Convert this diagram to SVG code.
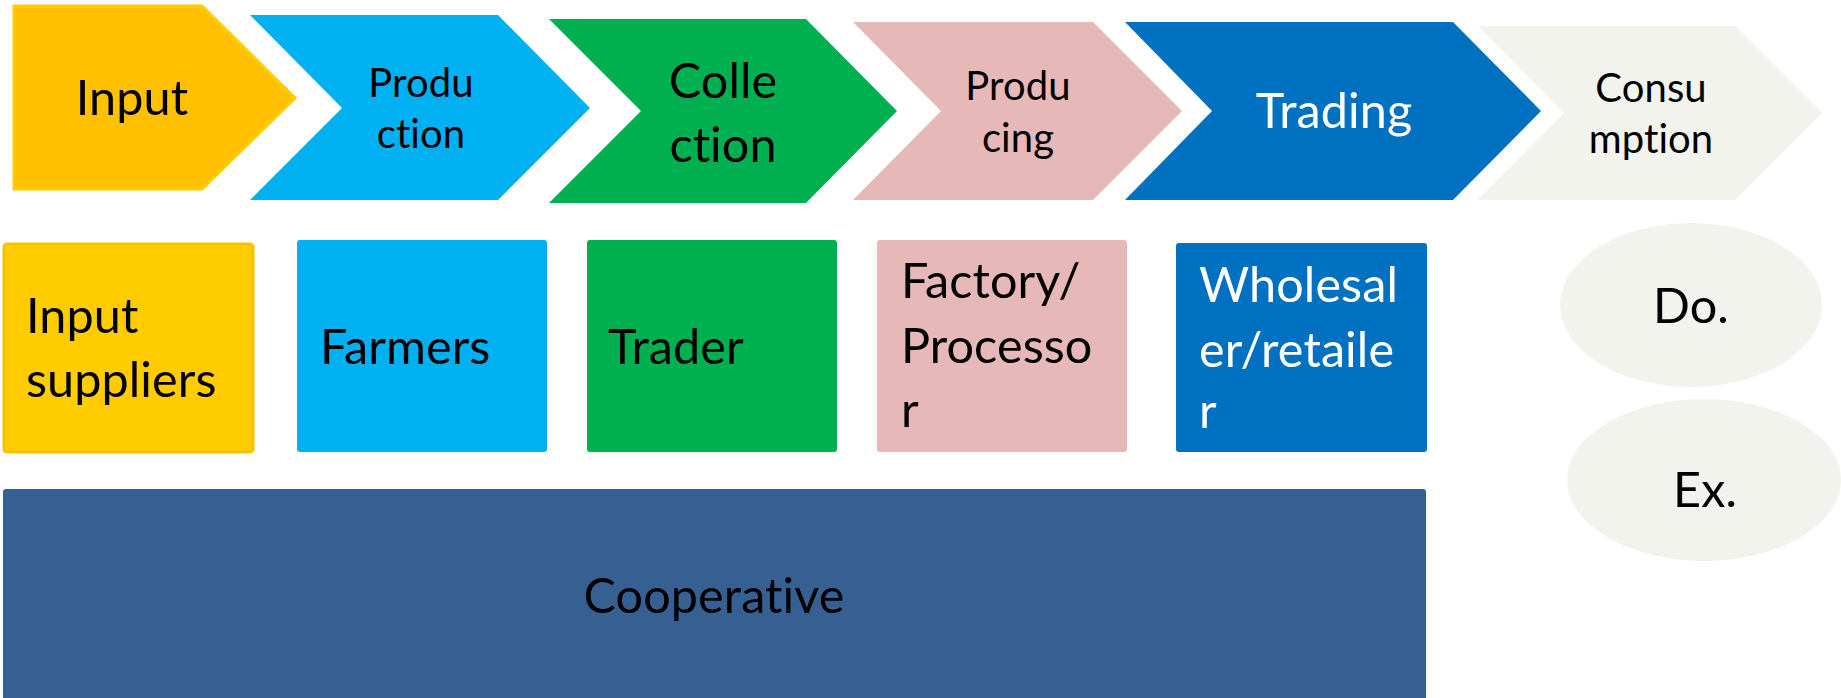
<svg xmlns="http://www.w3.org/2000/svg" width="1841" height="698" viewBox="0 0 1841 698">
<style>
text{font-family:Lato,"Open Sans","Liberation Sans",sans-serif;fill:#000;font-variant-ligatures:none;font-feature-settings:"liga" 0,"dlig" 0,"clig" 0;letter-spacing:0.1px}
.big{font-size:48.5px}
.mid{font-size:40px}
.c{text-anchor:middle}
.w{fill:#fff}
</style>
<rect width="1841" height="698" fill="#fff"/>
<g id="stage-input"><polygon points="14,6 202,6 295,98 202,189 14,189" fill="#FFC000" stroke="#FFCC00" stroke-width="3"/><text class="big c" x="132" y="115">Input</text></g>
<g id="stage-production"><polygon points="250,15 498,15 590,108 498,200 250,200 342,108" fill="#00B0F0"/><text class="mid c" x="421" y="97">Produ</text><text class="mid c" x="421" y="148">ction</text></g>
<g id="stage-collection"><polygon points="549,19 806,19 897,111 806,203 549,203 641,111" fill="#00B050"/><text class="big c" x="723" y="98">Colle</text><text class="big c" x="723" y="162">ction</text></g>
<g id="stage-producing"><polygon points="853,22 1093,22 1182,111 1093,200 853,200 941,111" fill="#E6B8B7"/><text class="mid c" x="1018" y="100">Produ</text><text class="mid c" x="1018" y="152">cing</text></g>
<g id="stage-trading"><polygon points="1125,22 1453,22 1541,111 1453,200 1125,200 1212,111" fill="#0070C0"/><text class="big c w" x="1334" y="128">Trading</text></g>
<g id="stage-consumption"><polygon points="1478,26 1735,26 1822,113 1735,200 1478,200 1564,113" fill="#F3F3EE"/><text class="mid c" x="1651" y="102">Consu</text><text class="mid c" x="1651" y="153">mption</text></g>
<g id="actor-input-suppliers"><rect x="4" y="244" width="249" height="208" rx="3" fill="#FFCC00" stroke="#FFC000" stroke-width="3"/><text class="big" x="26" y="333">Input</text><text class="big" x="26" y="397">suppliers</text></g>
<g id="actor-farmers"><rect x="297" y="240" width="250" height="212" rx="3" fill="#00B0F0"/><text class="big" x="320" y="364">Farmers</text></g>
<g id="actor-trader"><rect x="587" y="240" width="250" height="212" rx="3" fill="#00B050"/><text class="big" x="608" y="364">Trader</text></g>
<g id="actor-factory"><rect x="877" y="240" width="250" height="212" rx="3" fill="#E6B8B7"/><text class="big" x="901" y="298">Factory/</text><text class="big" x="901" y="363">Processo</text><text class="big" x="901" y="427">r</text></g>
<g id="actor-wholesaler"><rect x="1176" y="243" width="251" height="209" rx="3" fill="#0070C0"/><text class="big w" x="1199" y="302">Wholesal</text><text class="big w" x="1199" y="367">er/retaile</text><text class="big w" x="1199" y="428">r</text></g>
<g id="market-domestic"><ellipse cx="1691" cy="305" rx="131" ry="82" fill="#F3F3EE"/><text class="big c" x="1691" y="323">Do.</text></g>
<g id="market-export"><ellipse cx="1704" cy="480" rx="137" ry="81" fill="#F3F3EE"/><text class="big c" x="1705" y="507">Ex.</text></g>
<g id="cooperative"><rect x="3" y="489" width="1423" height="220" rx="3" fill="#376092"/><text class="big c" x="714" y="613">Cooperative</text></g>
<g id="connectors"></g>
</svg>
